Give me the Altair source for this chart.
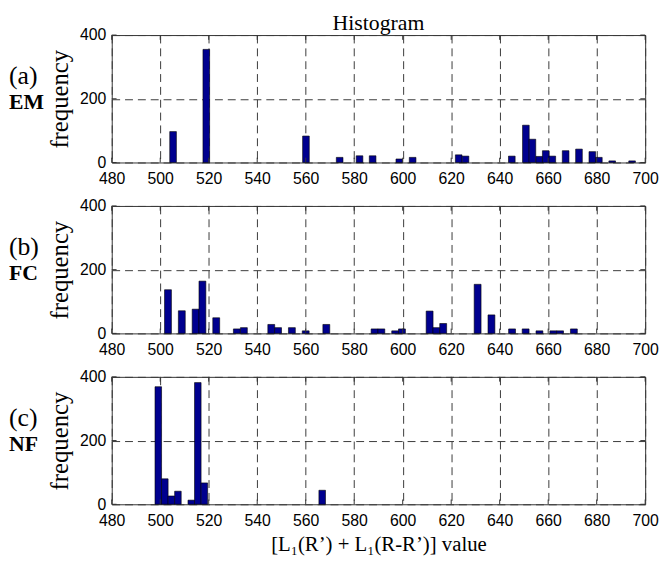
import altair as alt
import pandas as pd

# ---- data ----
x_ticks = [480, 500, 520, 540, 560, 580, 600, 620, 640, 660, 680, 700]
y_ticks = [0, 200, 400]

panel_tags = ["(a)", "(b)", "(c)"]
panel_names = ["EM", "FC", "NF"]

# Panel (a) EM
a_centers = [505.3, 519.0, 560.1, 574.0, 582.2, 587.6, 598.6, 604.1, 623.1, 625.9,
             645.0, 650.8, 653.5, 656.3, 659.0, 661.7, 667.2, 672.7, 678.2, 680.9,
             686.4, 694.6]
a_counts = [97, 355, 83, 16, 21, 21, 11, 16, 24, 20,
            20, 117, 73, 19, 37, 20, 37, 42, 34, 16,
            5, 5]
a_binwidth = 2.742

# Panel (b) FC
b_centers = [503.2, 508.9, 514.6, 517.4, 523.1, 531.6, 534.5, 545.8, 548.6, 554.3,
             560.0, 568.5, 588.4, 591.2, 596.9, 599.7, 611.1, 613.9, 616.7, 630.9,
             636.6, 645.1, 650.7, 656.4, 662.1, 664.9, 670.6]
b_counts = [137, 71, 76, 164, 49, 14, 18, 28, 18, 18,
            8, 28, 14, 14, 8, 14, 70, 18, 31, 154,
            58, 14, 14, 8, 8, 8, 14]
b_binwidth = 2.837

# Panel (c) NF
c_centers = [499.2, 501.9, 504.6, 507.3, 512.8, 515.5, 518.2, 566.8]
c_counts = [369, 80, 26, 41, 13, 382, 67, 44]
c_binwidth = 2.704

x_title = "[L\u2081(R\u2019) + L\u2081(R-R\u2019)] value"

SERIF = "Liberation Serif"
SANS = "Liberation Sans"
W, H = 540, 129
BAR = "#00008F"
GRID = "#3a3a3a"

xs = alt.Scale(domain=[480, 700], nice=False, zero=False)
ys = alt.Scale(domain=[0, 400], nice=False)


def panel(centers, counts, bw, tag, name, show_xtitle=False, title=None):
    df = pd.DataFrame({"center": centers, "count": counts})
    df["lo"] = df["center"] - bw / 2
    df["hi"] = df["center"] + bw / 2

    xaxis = alt.Axis(values=x_ticks, grid=True, gridDash=[8, 5], gridColor=GRID,
                     gridWidth=1, domain=False, ticks=False, labelFont=SANS,
                     labelFontSize=16, labelColor="#000", labelPadding=8,
                     labelFlush=False,
                     title=x_title if show_xtitle else None,
                     titleFont=SERIF, titleFontSize=21, titleFontWeight="normal",
                     titleColor="#000", titlePadding=6)
    yaxis = alt.Axis(values=y_ticks, grid=True, gridDash=[8, 5], gridColor=GRID,
                     gridWidth=1, domain=False, ticks=False, labelFont=SANS,
                     labelFontSize=16, labelColor="#000", labelPadding=6,
                     labelFlush=False,
                     title="frequency", titleFont=SERIF, titleFontSize=25,
                     titleFontWeight="normal", titleColor="#000", titlePadding=7)

    bars = alt.Chart(df).mark_rect(color=BAR, stroke="#000", strokeWidth=0.6).encode(
        x=alt.X("lo:Q", scale=xs, axis=xaxis),
        x2="hi:Q",
        y=alt.Y("count:Q", scale=ys, axis=yaxis),
        y2=alt.datum(0),
    )

    tdf = pd.DataFrame({"t": x_ticks})
    xt_bottom = alt.Chart(tdf).mark_rule(color="#333").encode(
        x=alt.X("t:Q", scale=xs), y=alt.datum(0), y2=alt.datum(15))
    xt_top = alt.Chart(tdf).mark_rule(color="#333").encode(
        x=alt.X("t:Q", scale=xs), y=alt.datum(385), y2=alt.datum(400))
    ydf = pd.DataFrame({"t": y_ticks})
    yt_left = alt.Chart(ydf).mark_rule(color="#333").encode(
        y=alt.Y("t:Q", scale=ys), x=alt.datum(480), x2=alt.datum(482))
    yt_right = alt.Chart(ydf).mark_rule(color="#333").encode(
        y=alt.Y("t:Q", scale=ys), x=alt.datum(698), x2=alt.datum(700))

    tag_txt = alt.Chart(pd.DataFrame({"s": [tag]})).mark_text(
        font=SERIF, fontSize=26, align="left", baseline="alphabetic", color="#000"
    ).encode(text="s:N", x=alt.value(-104), y=alt.value(50))
    name_txt = alt.Chart(pd.DataFrame({"s": [name]})).mark_text(
        font=SERIF, fontSize=22, fontWeight="bold", align="left",
        baseline="alphabetic", color="#000"
    ).encode(text="s:N", x=alt.value(-104), y=alt.value(75))

    layer = alt.layer(bars, xt_bottom, xt_top, yt_left, yt_right, tag_txt, name_txt)
    props = dict(width=W, height=H)
    if title:
        props["title"] = alt.TitleParams(title, font=SERIF, fontSize=22,
                                         fontWeight="normal", color="#000",
                                         anchor="middle", offset=-8, frame="group")
    return layer.properties(**props)


pa = panel(a_centers, a_counts, a_binwidth, panel_tags[0], panel_names[0], title="Histogram")
pb = panel(b_centers, b_counts, b_binwidth, panel_tags[1], panel_names[1])
pc = panel(c_centers, c_counts, c_binwidth, panel_tags[2], panel_names[2], show_xtitle=True)

chart = alt.vconcat(pa, pb, pc, spacing=44, bounds="flush").properties(
    padding=0
).configure_view(stroke="#333", strokeWidth=1)

chart.save("out.html", embed_options={"renderer": "svg", "actions": False})
